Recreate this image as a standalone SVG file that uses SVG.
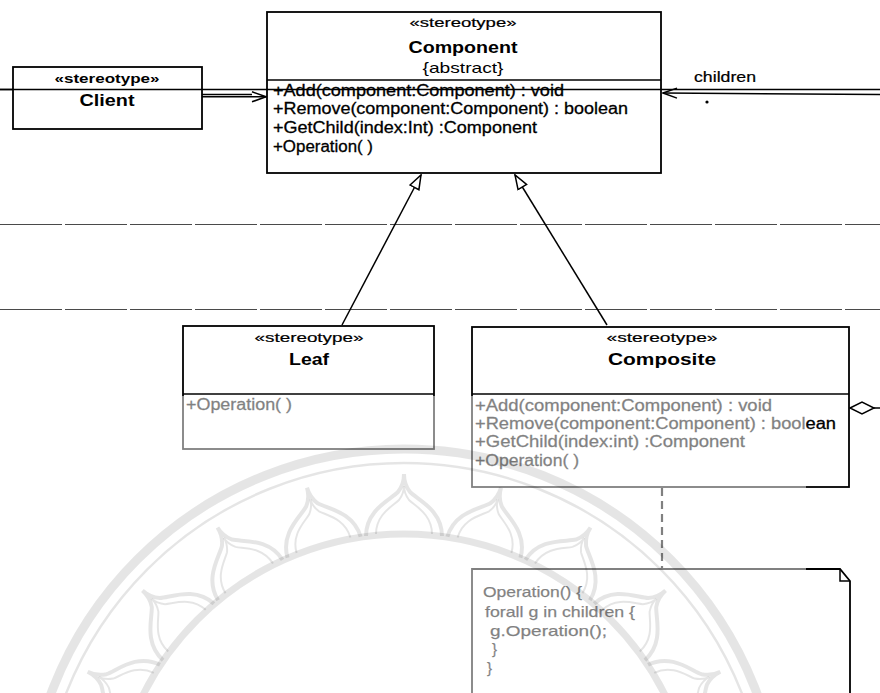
<svg xmlns="http://www.w3.org/2000/svg" xmlns:xlink="http://www.w3.org/1999/xlink" width="880" height="693" viewBox="0 0 880 693">
  <style>
    text { font-family: "Liberation Sans", Arial, sans-serif; fill: #000; }
    .st { font-size: 13px; stroke: #000; stroke-width: 0.2; }
    .name { font-size: 16px; font-weight: bold; }
    .op { font-size: 16px; stroke: #000; stroke-width: 0.3; }
    .note-t { font-size: 15px; stroke: #000; stroke-width: 0.25; }
    .box { fill: #fff; stroke: #000; stroke-width: 1.8; }
    .div { stroke: #000; stroke-width: 1.6; }
    .rule { stroke: #4a4a4a; stroke-width: 1.2; stroke-dasharray: 62 3; fill: none; }
    .edge { stroke: #000; stroke-width: 1.5; fill: none; }
    .seal { fill: none; stroke: #000; stroke-opacity: 0.1; }
  </style>
  <defs>
    <marker id="gen" viewBox="0 0 16 12" refX="15" refY="6" markerWidth="16" markerHeight="12" markerUnits="userSpaceOnUse" orient="auto">
      <path d="M1,1 L15,6 L1,11 Z" fill="#fff" stroke="#000" stroke-width="1.5"/>
    </marker>
    <marker id="open" viewBox="0 0 16 12" refX="15" refY="6" markerWidth="16" markerHeight="12" markerUnits="userSpaceOnUse" orient="auto">
      <path d="M1,1 L15,6 L1,11" fill="none" stroke="#000" stroke-width="1.5"/>
    </marker>
    <!-- one lotus petal of the seal, pointing up from the seal centre (404,826) -->
    <path id="petal" d="M366,536 C366,510 390,500 398,492 C402,487 404,481 404,474 C404,481 406,487 410,492 C418,500 442,510 442,536"/>
    <path id="petal-in" d="M376,534 C376,514 393,506 399,500 C402,496 404,491 404,486 C404,491 406,496 409,500 C415,506 432,514 432,534"/>
  </defs>

  <!-- page rules -->
  <g id="rules">
    <line x1="0" y1="89.5" x2="880" y2="89.5" stroke="#000" stroke-width="1.3"/>
    <line class="rule" x1="0" y1="224.5" x2="880" y2="224.5"/>
    <line class="rule" x1="0" y1="309.5" x2="880" y2="309.5"/>
  </g>

  <!-- connectors -->
  <g id="connectors">
    <!-- Client uses Component -->
    <line class="edge" x1="202" y1="94.5" x2="252" y2="94.5" stroke-width="1"/>
    <line class="edge" x1="202" y1="96.8" x2="266" y2="96.8" stroke-width="1" marker-end="url(#open)"/>
    <!-- children association (double line) -->
    <line class="edge" x1="880" y1="94.5" x2="663" y2="93" stroke-width="1.5" marker-end="url(#open)"/>
    <circle cx="707" cy="102" r="1.6" fill="#000"/>
    <!-- generalizations -->
    <line class="edge" x1="342" y1="325" x2="421" y2="175" marker-end="url(#gen)"/>
    <line class="edge" x1="607" y1="325" x2="515" y2="175" marker-end="url(#gen)"/>
    <!-- aggregation from Composite -->
    <path d="M850,408 L862,402 L874,408 L862,414 Z" fill="#fff" stroke="#000" stroke-width="1.5"/>
    <line class="edge" x1="874" y1="408" x2="880" y2="408"/>
    <!-- note anchor -->
    <line x1="662" y1="488" x2="662" y2="569" stroke="#000" stroke-width="2.2" stroke-dasharray="8 5"/>
  </g>

  <g id="client">
    <rect class="box" x="13" y="67" width="189" height="62"/>
    <line x1="0" y1="89.5" x2="202" y2="89.5" stroke="#000" stroke-width="1.3"/>
    <text x="107" y="83" text-anchor="middle" font-size="12" font-weight="bold" textLength="105" lengthAdjust="spacingAndGlyphs">«stereotype»</text>
    <text class="name" x="107" y="106" text-anchor="middle" textLength="55" lengthAdjust="spacingAndGlyphs">Client</text>
  </g>

  <g id="component">
    <rect class="box" x="267" y="12" width="394" height="161"/>
    <line class="div" x1="267" y1="80" x2="661" y2="80"/>
    <line x1="267" y1="89.5" x2="661" y2="89.5" stroke="#000" stroke-width="1.3"/>
    <text class="st" x="463" y="27" text-anchor="middle" textLength="107" lengthAdjust="spacingAndGlyphs">«stereotype»</text>
    <text class="name" x="463" y="53" text-anchor="middle" textLength="109" lengthAdjust="spacingAndGlyphs">Component</text>
    <text x="463" y="73" text-anchor="middle" font-size="15" textLength="81" lengthAdjust="spacingAndGlyphs">{abstract}</text>
    <text class="op" x="273" y="96" textLength="291" lengthAdjust="spacingAndGlyphs">+Add(component:Component) : void</text>
    <text class="op" x="273" y="114" textLength="355" lengthAdjust="spacingAndGlyphs">+Remove(component:Component) : boolean</text>
    <text class="op" x="273" y="133" textLength="264" lengthAdjust="spacingAndGlyphs">+GetChild(index:Int) :Component</text>
    <text class="op" x="273" y="152" textLength="100" lengthAdjust="spacingAndGlyphs">+Operation( )</text>
  </g>

  <text x="694" y="82" font-size="14" stroke="#000" stroke-width="0.2" textLength="62" lengthAdjust="spacingAndGlyphs">children</text>

  <g id="leaf">
    <rect class="box" x="183" y="326" width="251" height="123"/>
    <line class="div" x1="183" y1="394" x2="434" y2="394"/>
    <text class="st" x="309" y="342" text-anchor="middle" textLength="109" lengthAdjust="spacingAndGlyphs">«stereotype»</text>
    <text class="name" x="309" y="365" text-anchor="middle" textLength="40" lengthAdjust="spacingAndGlyphs">Leaf</text>
    <text class="op" x="186" y="410" textLength="106" lengthAdjust="spacingAndGlyphs">+Operation( )</text>
  </g>

  <g id="composite">
    <rect class="box" x="472" y="327" width="377" height="160"/>
    <line class="div" x1="472" y1="394" x2="849" y2="394"/>
    <text class="st" x="662" y="342" text-anchor="middle" textLength="111" lengthAdjust="spacingAndGlyphs">«stereotype»</text>
    <text class="name" x="662" y="365" text-anchor="middle" textLength="108" lengthAdjust="spacingAndGlyphs">Composite</text>
    <text class="op" x="475" y="411" textLength="297" lengthAdjust="spacingAndGlyphs">+Add(component:Component) : void</text>
    <text class="op" x="475" y="429" textLength="361" lengthAdjust="spacingAndGlyphs">+Remove(component:Component) : boolean</text>
    <text class="op" x="475" y="447" textLength="270" lengthAdjust="spacingAndGlyphs">+GetChild(index:int) :Component</text>
    <text class="op" x="475" y="466" textLength="104" lengthAdjust="spacingAndGlyphs">+Operation( )</text>
  </g>

  <g id="note">
    <path d="M472,700 L472,569 L840,569 L850,581 L850,700" fill="#fff" stroke="#000" stroke-width="1.8"/>
    <path d="M840,569 L840,581 L850,581" fill="none" stroke="#000" stroke-width="1.5"/>
    <text class="note-t" x="483" y="597" textLength="99" lengthAdjust="spacingAndGlyphs">Operation() {</text>
    <text class="note-t" x="485" y="617" textLength="150" lengthAdjust="spacingAndGlyphs">forall g in children {</text>
    <text class="note-t" x="490" y="636" textLength="117" lengthAdjust="spacingAndGlyphs">g.Operation();</text>
    <text class="note-t" x="492" y="654">}</text>
    <text class="note-t" x="487" y="673">}</text>
  </g>

  <!-- lighter print over the lower left of the page -->
  <rect x="0" y="396" width="806" height="297" fill="#fff" fill-opacity="0.5"/>

  <!-- faint seal in the background -->
  <g id="seal">
    <circle class="seal" cx="404" cy="826" r="377" stroke-width="9"/>
    <circle class="seal" cx="404" cy="826" r="363" stroke-width="2.5"/>
    <circle class="seal" cx="404" cy="826" r="292" stroke-width="7"/>
    <g class="seal" stroke-width="4">
      <use xlink:href="#petal" transform="rotate(-64 404 826)"/>
      <use xlink:href="#petal" transform="rotate(-48 404 826)"/>
      <use xlink:href="#petal" transform="rotate(-32 404 826)"/>
      <use xlink:href="#petal" transform="rotate(-16 404 826)"/>
      <use xlink:href="#petal"/>
      <use xlink:href="#petal" transform="rotate(16 404 826)"/>
      <use xlink:href="#petal" transform="rotate(32 404 826)"/>
      <use xlink:href="#petal" transform="rotate(48 404 826)"/>
      <use xlink:href="#petal" transform="rotate(64 404 826)"/>
    </g>
    <g class="seal" stroke-width="2">
      <use xlink:href="#petal-in" transform="rotate(-64 404 826)"/>
      <use xlink:href="#petal-in" transform="rotate(-48 404 826)"/>
      <use xlink:href="#petal-in" transform="rotate(-32 404 826)"/>
      <use xlink:href="#petal-in" transform="rotate(-16 404 826)"/>
      <use xlink:href="#petal-in"/>
      <use xlink:href="#petal-in" transform="rotate(16 404 826)"/>
      <use xlink:href="#petal-in" transform="rotate(32 404 826)"/>
      <use xlink:href="#petal-in" transform="rotate(48 404 826)"/>
      <use xlink:href="#petal-in" transform="rotate(64 404 826)"/>
    </g>
  </g>
</svg>
